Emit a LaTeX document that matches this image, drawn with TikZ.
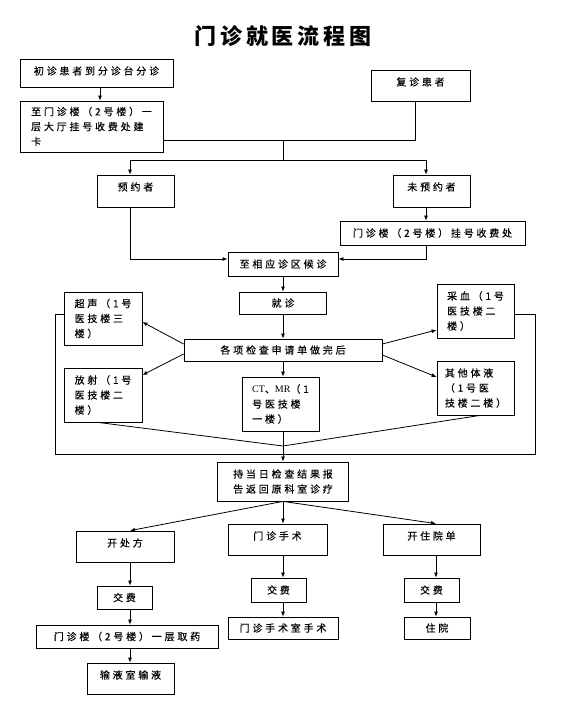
\documentclass[tikz,border=0pt]{standalone}
\usepackage{fontspec}
\usetikzlibrary{arrows.meta,calc}
\setmainfont{Noto Sans CJK SC}[LetterSpace=28,FakeBold=0.3]
\newfontfamily\titlefont{Noto Sans CJK SC}[LetterSpace=18]
\newfontfamily\latinserif{Liberation Serif}
\begin{document}
\begin{tikzpicture}[x=1pt,y=-1pt,
  box/.style={draw, line width=0.8pt, inner sep=0pt, font=\fontsize{10}{15}\selectfont},
  up/.style={text depth=#1},
  arr/.style={-{Latex[length=5pt,width=4pt]}, line width=0.8pt},
  ln/.style={line width=0.8pt}]
\useasboundingbox (0,0) rectangle (579,708);
\node[font=\titlefont\bfseries\fontsize{22}{26}\selectfont] (title) at (283,36) {门诊就医流程图};
% boxes
\node[box, up=5pt, minimum width=153, minimum height=28] (A) at (96.5,73) {初诊患者到分诊台分诊};
\node[box, up=8pt, minimum width=99, minimum height=31] (B) at (420.5,85.5) {复诊患者};
\node[box, minimum width=143, minimum height=51, align=left] (C) at (91.5,126.5) {至门诊楼（2号楼）一\\层大厅挂号收费处建\\卡};
\node[box, up=9pt, minimum width=77, minimum height=32] (D) at (135.5,191) {预约者};
\node[box, up=9pt, minimum width=77, minimum height=32] (E) at (431.5,191) {未预约者};
\node[box, minimum width=185, minimum height=24] (F) at (432.5,233) {门诊楼（2号楼）挂号收费处};
\node[box, minimum width=110, minimum height=24] (G) at (283,264) {至相应诊区候诊};
\node[box, minimum width=87, minimum height=22] (H) at (283,303) {就诊};
\node[box, minimum width=198, minimum height=22] (I) at (283,350) {各项检查申请单做完后};
\node[box, minimum width=78, minimum height=53, align=left] (J) at (103,318.5) {超声（1号\\医技楼三\\楼）};
\node[box, minimum width=78, minimum height=54, align=left] (K) at (103,395) {放射（1号\\医技楼二\\楼）};
\node[box, minimum width=77, minimum height=54, align=left] (L) at (280.5,404) {{\latinserif CT}、{\latinserif MR}（1\\号医技楼\\一楼）};
\node[box, minimum width=77, minimum height=54, align=left] (M) at (475.5,311) {采血（1号\\医技楼二\\楼）};
\node[box, minimum width=77, minimum height=54, align=left] (N) at (475.5,388) {其他体液\\（1号医\\技楼二楼）};
\node[box, minimum width=131, minimum height=39, align=left] (O) at (283,481.5) {持当日检查结果报\\告返回原科室诊疗};
\node[box, up=8pt, minimum width=98, minimum height=31] (P) at (125,546.5) {开处方};
\node[box, up=8pt, minimum width=99, minimum height=31] (Q) at (277.5,539.5) {门诊手术};
\node[box, up=8pt, minimum width=97, minimum height=31] (R) at (431.5,539.5) {开住院单};
\node[box, minimum width=55, minimum height=23] (S) at (124.5,597.5) {交费};
\node[box, minimum width=182, minimum height=23] (T) at (127,636.5) {门诊楼（2号楼）一层取药};
\node[box, up=8pt, minimum width=87, minimum height=31] (U) at (130.5,678.5) {输液室输液};
\node[box, minimum width=55, minimum height=24] (V) at (278.5,590) {交费};
\node[box, minimum width=110, minimum height=22] (W) at (283,628) {门诊手术室手术};
\node[box, minimum width=55, minimum height=24] (X) at (431.5,590) {交费};
\node[box, minimum width=66, minimum height=22] (Y) at (437,628) {住院};
% helper coordinates
\coordinate (lc) at (130,0);
\coordinate (mc) at (283,0);
\coordinate (rc) at (436,0);
\coordinate (ec) at (426,0);
\coordinate (bc) at (415,0);
\coordinate (j1) at (283,140);
\coordinate (j2) at (283,160);
\coordinate (gy) at (0,259);
\coordinate (loopL1) at (55,314);
\coordinate (loopL2) at (55,454);
\coordinate (loopR2) at (535,454);
\coordinate (loopR1) at (535,314);
\coordinate (conv) at (283,446);
\coordinate (loopM) at (283,454);
% connectors top
\draw[arr] (A.south -| 100,0) -- (C.north -| 100,0);
\draw[ln] (C.east |- j1) -- (j1 -| bc) -- (B.south -| bc);
\draw[ln] (j1) -- (j2);
\draw[arr] (j2) -| (D.north -| lc);
\draw[arr] (j2) -| (E.north -| ec);
\draw[arr] (D.south -| lc) |- (G.west |- gy);
\draw[arr] (E.south -| ec) -- (F.north -| ec);
\draw[arr] (F.south -| ec) |- (G.east |- gy);
\draw[arr] (G.south -| mc) -- (H.north -| mc);
\draw[arr] (H.south -| mc) -- (I.north -| mc);
\draw[arr] (I.south -| mc) -- (L.north -| mc);
\draw[arr] ($(I.west)+(0,-6)$) -- ($(J.east)+(0,3.5)$);
\draw[arr] ($(I.west)+(0,4)$) -- ($(K.east)+(0,-20)$);
\draw[arr] ($(I.east)+(0,-6)$) -- ($(M.west)+(0,19)$);
\draw[arr] ($(I.east)+(0,5)$) -- ($(N.west)+(0,-11)$);
% loop and convergence
\draw[ln] (J.west |- loopL1) -- (loopL1) -- (loopL2) -- (loopR2) -- (loopR1) -- (M.east |- loopR1);
\draw[ln] ($(K.south)+(-5,0)$) -- (conv) -- ($(N.south)+(4.5,0)$);
\draw[ln] (L.south -| mc) -- (loopM);
\draw[arr] (loopM) -- (O.north -| mc);
% lower part
\draw[arr] (O.south) -- (P.north -| lc);
\draw[arr] (O.south) -- (Q.north -| mc);
\draw[arr] (O.south) -- (R.north -| rc);
\draw[arr] (P.south -| lc) -- (S.north -| lc);
\draw[arr] (S.south -| lc) -- (T.north -| lc);
\draw[arr] (T.south -| lc) -- (U.north -| lc);
\draw[arr] (Q.south -| mc) -- (V.north -| mc);
\draw[arr] (V.south -| mc) -- (W.north -| mc);
\draw[arr] (R.south -| rc) -- (X.north -| rc);
\draw[arr] (X.south -| rc) -- (Y.north -| rc);
\end{tikzpicture}
\end{document}
